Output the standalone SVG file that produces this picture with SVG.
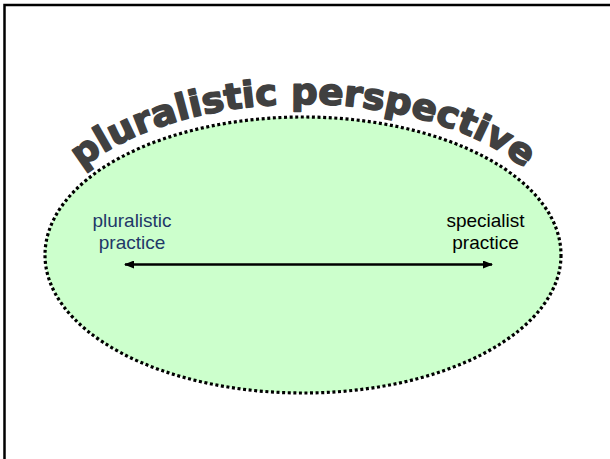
<svg xmlns="http://www.w3.org/2000/svg" width="610" height="459" viewBox="0 0 610 459">
  <style>
    .lbl { font-family: "Liberation Sans", Arial, sans-serif; font-size: 19px; text-anchor: middle; }
    .arc { font-family: "DejaVu Sans", "Liberation Sans", sans-serif; font-weight: bold; font-size: 36px; fill: #404040; stroke: #404040; stroke-width: 1.6; stroke-linejoin: round; }
  </style>
  <defs>
    <marker id="ah" viewBox="0 0 10 8" refX="9" refY="4" markerWidth="10" markerHeight="8" markerUnits="userSpaceOnUse" orient="auto-start-reverse">
      <path d="M0,0 L10,4 L0,8 Z" fill="#000"/>
    </marker>
    <path id="arcPath" d="M31,257 A272,153 0 0 1 575,257"/>
  </defs>
  <rect width="610" height="459" fill="#fff"/>
  <path d="M4.5,459 L4.5,5 L612,5" fill="none" stroke="#000" stroke-width="2.5"/>
  <g id="ellipse">
    <ellipse cx="303" cy="255" rx="258" ry="138" fill="#ccffcc" stroke="#000" stroke-width="3.2" stroke-dasharray="3 2.6"/>
  </g>
  <g id="title">
    <text class="arc"><textPath href="#arcPath" startOffset="50%" text-anchor="middle" textLength="470" lengthAdjust="spacingAndGlyphs">pluralistic perspective</textPath></text>
  </g>
  <g id="pluralistic-practice">
    <text class="lbl" x="132" y="227" fill="#1f3868">pluralistic</text>
    <text class="lbl" x="132" y="249" fill="#1f3868">practice</text>
  </g>
  <g id="specialist-practice">
    <text class="lbl" x="485.5" y="227" fill="#000">specialist</text>
    <text class="lbl" x="485.5" y="249" fill="#000">practice</text>
  </g>
  <g id="connectors">
    <line x1="125" y1="264.5" x2="492" y2="264.5" stroke="#000" stroke-width="2.5" marker-start="url(#ah)" marker-end="url(#ah)"/>
  </g>
</svg>
